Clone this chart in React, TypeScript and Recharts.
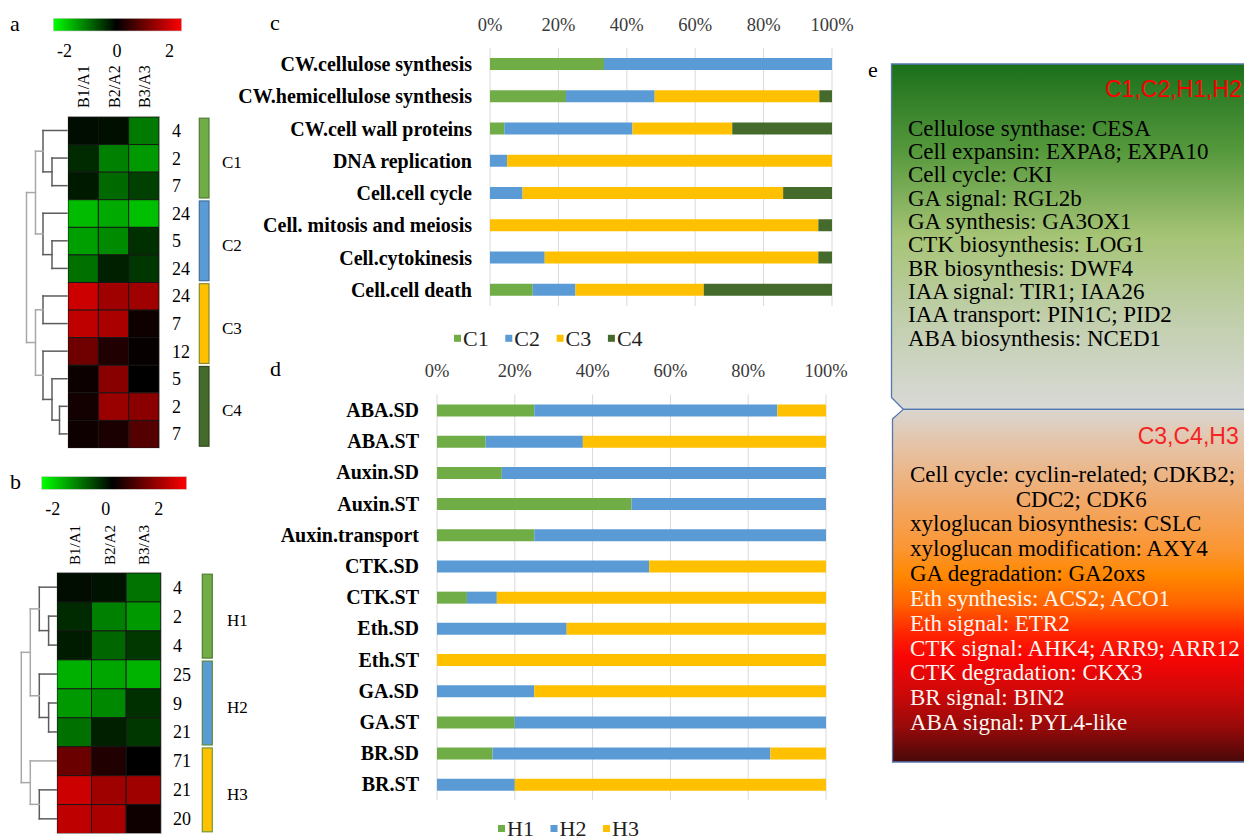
import React from 'react';
import { BarChart, Bar, XAxis, YAxis, CartesianGrid, ScatterChart, Scatter } from 'recharts';

const SERIF = '"Liberation Serif", "Times New Roman", serif';
const SANS = '"Liberation Sans", Arial, sans-serif';

// ---------- heat maps: log2 ratios, rows in dendrogram order ----------
const sampleLabels = ['B1/A1', 'B2/A2', 'B3/A3'];

const cellRowSizes = [4, 2, 7, 24, 5, 24, 24, 7, 12, 5, 2, 7];
const cellRowValues = [
  [-0.1, -0.12, -0.96],
  [-0.33, -1.0, -1.2],
  [-0.2, -0.83, -0.5],
  [-1.47, -1.33, -1.5],
  [-1.25, -1.08, -0.38],
  [-0.88, -0.25, -0.42],
  [1.6, 1.25, 1.25],
  [1.5, 1.33, 0.12],
  [0.88, 0.25, 0.05],
  [0.1, 1.07, 0.0],
  [0.15, 1.2, 1.08],
  [0.12, 0.2, 0.67],
];
const cellClusters = [
  { name: 'C1', from: 0, to: 2, fill: '#70ad47', stroke: '#4f7d31' },
  { name: 'C2', from: 3, to: 5, fill: '#5b9bd5', stroke: '#41719c' },
  { name: 'C3', from: 6, to: 8, fill: '#ffc000', stroke: '#8a8a2a' },
  { name: 'C4', from: 9, to: 11, fill: '#446a2c', stroke: '#2f4a1e' },
];
// merge tree: [height, left, right]; leaves are row indices
const cellTree = [1.35,
  [1.05, [0.8, 0, [0.5, 1, 2]], [0.8, 3, [0.5, 4, 5]]],
  [1.05, [0.8, 6, 7], [0.8, 8, [0.5, 9, [0.25, 10, 11]]]]];

const hormoneRowSizes = [4, 2, 4, 25, 9, 21, 71, 21, 20];
const hormoneRowValues = [
  [-0.1, -0.15, -0.9],
  [-0.33, -1.0, -1.2],
  [-0.22, -0.8, -0.44],
  [-1.38, -1.3, -1.4],
  [-1.2, -1.07, -0.38],
  [-0.88, -0.25, -0.42],
  [0.83, 0.25, 0.0],
  [1.6, 1.25, 1.25],
  [1.5, 1.33, 0.12],
];
const hormoneClusters = [
  { name: 'H1', from: 0, to: 2, fill: '#70ad47', stroke: '#4f7d31' },
  { name: 'H2', from: 3, to: 5, fill: '#5b9bd5', stroke: '#5a8a3a' },
  { name: 'H3', from: 6, to: 8, fill: '#ffc000', stroke: '#6f9a3a' },
];
const hormoneTree = [1.19,
  [0.89, [0.59, 0, [0.28, 1, 2]], [0.59, 3, [0.28, 4, 5]]],
  [0.89, 6, [0.59, 7, 8]]];

const scaleTicks = [-2, 0, 2];

// ---------- panel c: share of genes per cluster ----------
const processNames = [
  'CW.cellulose synthesis',
  'CW.hemicellulose synthesis',
  'CW.cell wall proteins',
  'DNA replication',
  'Cell.cell cycle',
  'Cell. mitosis and meiosis',
  'Cell.cytokinesis',
  'Cell.cell death',
];
const c1Counts = [1, 6, 1, 0, 0, 0, 0, 1];
const c2Counts = [2, 7, 9, 1, 2, 0, 4, 1];
const c3Counts = [0, 13, 7, 19, 16, 24, 20, 3];
const c4Counts = [0, 1, 7, 0, 3, 1, 1, 3];

// ---------- panel d: hormone pathways ----------
const hormoneNames = [
  'ABA.SD', 'ABA.ST', 'Auxin.SD', 'Auxin.ST', 'Auxin.transport', 'CTK.SD', 'CTK.ST',
  'Eth.SD', 'Eth.ST', 'GA.SD', 'GA.ST', 'BR.SD', 'BR.ST',
];
const h1Counts = [2, 1, 1, 1, 1, 0, 1, 0, 0, 0, 1, 1, 0];
const h2Counts = [5, 2, 5, 1, 3, 6, 1, 1, 0, 1, 4, 5, 1];
const h3Counts = [1, 5, 0, 0, 0, 5, 11, 2, 1, 3, 0, 1, 4];

const pctTicks = [0, 0.2, 0.4, 0.6, 0.8, 1];

const cSeries = [
  { key: 'C1', color: '#70ad47' },
  { key: 'C2', color: '#5b9bd5' },
  { key: 'C3', color: '#ffc000' },
  { key: 'C4', color: '#446a2c' },
];
const hSeries = [
  { key: 'H1', color: '#70ad47' },
  { key: 'H2', color: '#5b9bd5' },
  { key: 'H3', color: '#ffc000' },
];

// ---------- panel e: gene summaries ----------
const upGroupTitle = 'C1,C2,H1,H2';
const upGroupLines = [
  'Cellulose synthase: CESA',
  'Cell expansin: EXPA8; EXPA10',
  'Cell cycle: CKI',
  'GA signal: RGL2b',
  'GA synthesis: GA3OX1',
  'CTK biosynthesis: LOG1',
  'BR biosynthesis: DWF4',
  'IAA signal: TIR1; IAA26',
  'IAA transport: PIN1C; PID2',
  'ABA biosynthesis: NCED1',
];
const downGroupTitle = 'C3,C4,H3';
const downGroupLines = [
  'Cell cycle: cyclin-related; CDKB2;',
  'CDC2; CDK6',
  'xyloglucan biosynthesis: CSLC',
  'xyloglucan modification: AXY4',
  'GA degradation: GA2oxs',
  'Eth synthesis: ACS2; ACO1',
  'Eth signal: ETR2',
  'CTK signal: AHK4; ARR9; ARR12',
  'CTK degradation: CKX3',
  'BR signal: BIN2',
  'ABA signal: PYL4-like',
];
const downGroupDarkCount = 5;

const processRows = processNames.map((name, i) => ({
  name, C1: c1Counts[i], C2: c2Counts[i], C3: c3Counts[i], C4: c4Counts[i],
}));
const hormoneRows = hormoneNames.map((name, i) => ({
  name, H1: h1Counts[i], H2: h2Counts[i], H3: h3Counts[i],
}));

function heatColor(v: number) {
  const c = Math.round(255 * Math.min(1, Math.abs(v) / 2));
  return v >= 0 ? `rgb(${c},0,0)` : `rgb(0,${c},0)`;
}

type Geo = {
  left: number; top: number; width: number; height: number;
  leafX: number; unit: number; sizeX: number; barX: number; barW: number;
  labelX: number; colLabelY: number; colLabelSize: number; colLabelShift: number;
  scale: { x: number; y: number; w: number; h: number }; zeroX: number; perUnit: number; tickY: number;
  letter: string; letterX: number; letterY: number;
};

const geoA: Geo = {
  left: 68.3, top: 116.7, width: 91, height: 331, leafX: 67, unit: 30, sizeX: 172,
  barX: 199.3, barW: 9.7, labelX: 222, colLabelY: 108, colLabelSize: 16, colLabelShift: 6,
  scale: { x: 53.3, y: 18.3, w: 128.4, h: 12.7 }, zeroX: 117, perUnit: 26.3, tickY: 57.3,
  letter: 'a', letterX: 10, letterY: 31,
};
const geoB: Geo = {
  left: 57.3, top: 572.7, width: 103.7, height: 260.6, leafX: 57, unit: 30, sizeX: 173,
  barX: 202.3, barW: 10, labelX: 227, colLabelY: 565, colLabelSize: 15, colLabelShift: 5.5,
  scale: { x: 41.7, y: 476.7, w: 145, h: 12.6 }, zeroX: 105.7, perUnit: 26.5, tickY: 515,
  letter: 'b', letterX: 10, letterY: 489,
};

function HeatCells({ values, geo }: { values: number[][]; geo: Geo }) {
  const rows = values.length;
  const cellW = geo.width / 3;
  const cellH = geo.height / rows;
  const data = values.flatMap((row, r) => row.map((v, c) => ({ col: c, row: r, value: v })));
  return (
    <div style={{ position: 'absolute', left: geo.left, top: geo.top }}>
      <ScatterChart width={geo.width} height={geo.height} margin={{ top: 0, right: 0, bottom: 0, left: 0 }}>
        <XAxis type="number" dataKey="col" domain={[-0.5, 2.5]} hide />
        <YAxis type="number" dataKey="row" domain={[-0.5, rows - 0.5]} reversed hide />
        <Scatter
          data={data}
          isAnimationActive={false}
          shape={(p: any) => (
            <rect x={p.cx - cellW / 2} y={p.cy - cellH / 2} width={cellW} height={cellH}
              fill={heatColor(p.payload.value)} stroke="#151515" strokeWidth={0.9} />
          )}
        />
      </ScatterChart>
    </div>
  );
}

function dendroSegments(tree: any, rowY: (i: number) => number, hx: (h: number) => number) {
  const segs: { x1: number; y1: number; x2: number; y2: number; h: number }[] = [];
  const walk = (node: any): { x: number; y: number } => {
    if (typeof node === 'number') return { x: hx(0), y: rowY(node) };
    const [h, a, b] = node;
    const A = walk(a);
    const B = walk(b);
    const x = hx(h);
    segs.push({ x1: A.x, y1: A.y, x2: x, y2: A.y, h });
    segs.push({ x1: B.x, y1: B.y, x2: x, y2: B.y, h });
    segs.push({ x1: x, y1: A.y, x2: x, y2: B.y, h });
    return { x, y: (A.y + B.y) / 2 };
  };
  walk(tree);
  return segs;
}

function HeatDecor({ geo, sizes, clusters, tree, gradId }: { geo: Geo; sizes: number[]; clusters: any[]; tree: any; gradId: string }) {
  const rows = sizes.length;
  const cellH = geo.height / rows;
  const cellW = geo.width / 3;
  const rowY = (i: number) => geo.top + (i + 0.5) * cellH;
  const segs = dendroSegments(tree, rowY, (h) => geo.leafX - geo.unit * h);
  return (
    <g>
      <text x={geo.letterX} y={geo.letterY} fontFamily={SERIF} fontSize={22}>{geo.letter}</text>
      <rect x={geo.scale.x} y={geo.scale.y} width={geo.scale.w} height={geo.scale.h}
        fill={`url(#${gradId})`} stroke="#c8c8c8" strokeWidth={0.6} />
      {scaleTicks.map((t) => (
        <text key={t} x={geo.zeroX + t * geo.perUnit} y={geo.tickY} textAnchor="middle"
          fontFamily={SERIF} fontSize={18}>{t}</text>
      ))}
      {sampleLabels.map((s, c) => {
        const x = geo.left + (c + 0.5) * cellW + geo.colLabelShift;
        return (
          <text key={s} transform={`translate(${x},${geo.colLabelY}) rotate(-90)`}
            fontFamily={SERIF} fontSize={geo.colLabelSize}>{s}</text>
        );
      })}
      {segs.map((s, i) => (
        <line key={i} x1={s.x1} y1={s.y1} x2={s.x2} y2={s.y2}
          stroke={s.h > 0.85 ? '#a8a8a8' : '#5c5c5c'} strokeWidth={1.5} strokeLinecap="square" />
      ))}
      <rect x={geo.left} y={geo.top} width={geo.width} height={geo.height} fill="none" stroke="#8a8a8a" strokeWidth={1} />
      {sizes.map((n, i) => (
        <text key={i} x={geo.sizeX} y={rowY(i) + 6.5} fontFamily={SERIF} fontSize={18}>{n}</text>
      ))}
      {clusters.map((c) => {
        const y1 = geo.top + c.from * cellH + 1.5;
        const y2 = geo.top + (c.to + 1) * cellH - 1.5;
        return (
          <g key={c.name}>
            <rect x={geo.barX} y={y1} width={geo.barW} height={y2 - y1} fill={c.fill} stroke={c.stroke} strokeWidth={1.2} />
            <text x={geo.labelX} y={(y1 + y2) / 2 + 10} fontFamily={SERIF} fontSize={17}>{c.name}</text>
          </g>
        );
      })}
    </g>
  );
}

const PctTick = ({ x, y, payload }: any) => (
  <text x={x} y={y} textAnchor="middle" fontFamily={SERIF} fontSize={18.5} fill="#3a3a3a">
    {Math.round(payload.value * 100)}%
  </text>
);
const NameTick = ({ x, y, payload }: any) => (
  <text x={x} y={y} dy={7} textAnchor="end" fontFamily={SERIF} fontSize={20} fontWeight="bold" fill="#000">
    {payload.value}
  </text>
);

function ShareChart({ data, series, left, top, width, height, margin, yWidth, tickMargin }: any) {
  return (
    <div style={{ position: 'absolute', left, top }}>
      <BarChart width={width} height={height} layout="vertical" data={data} stackOffset="expand" margin={margin}>
        <CartesianGrid horizontal={false} stroke="#d9d9d9" strokeWidth={1} />
        <XAxis type="number" orientation="top" domain={[0, 1]} ticks={pctTicks} height={30}
          axisLine={false} tickLine={false} tickSize={0} tickMargin={tickMargin} tick={<PctTick />} />
        <YAxis type="category" dataKey="name" width={yWidth} interval={0}
          axisLine={false} tickLine={false} tickSize={0} tickMargin={18} tick={<NameTick />} />
        {series.map((s: any) => (
          <Bar key={s.key} dataKey={s.key} stackId="share" fill={s.color} barSize={12} isAnimationActive={false} />
        ))}
      </BarChart>
    </div>
  );
}

function LegendRow({ series, x0, step, y }: any) {
  return (
    <g>
      {series.map((s: any, i: number) => (
        <g key={s.key}>
          <rect x={x0 + i * step} y={y - 3.5} width={7} height={7} fill={s.color} />
          <text x={x0 + i * step + 9} y={y + 7.5} fontFamily={SERIF} fontSize={22} fill="#222">{s.key}</text>
        </g>
      ))}
    </g>
  );
}

function SummaryPanel() {
  return (
    <g>
      <defs>
        <linearGradient id="upFill" x1="0" y1="0" x2="0" y2="1">
          <stop offset="0" stopColor="#1b6f1b" />
          <stop offset="0.25" stopColor="#55983c" />
          <stop offset="0.5" stopColor="#a6c476" />
          <stop offset="0.75" stopColor="#c2cfae" />
          <stop offset="1" stopColor="#d9d9d7" />
        </linearGradient>
        <linearGradient id="downFill" x1="0" y1="0" x2="0" y2="1">
          <stop offset="0" stopColor="#d9d6d0" />
          <stop offset="0.11" stopColor="#e6c2a4" />
          <stop offset="0.26" stopColor="#f1a868" />
          <stop offset="0.4" stopColor="#fb9530" />
          <stop offset="0.47" stopColor="#ff8800" />
          <stop offset="0.55" stopColor="#ff6400" />
          <stop offset="0.63" stopColor="#ff2800" />
          <stop offset="0.7" stopColor="#fa0505" />
          <stop offset="0.8" stopColor="#d00808" />
          <stop offset="0.9" stopColor="#980a0a" />
          <stop offset="1" stopColor="#480808" />
        </linearGradient>
      </defs>
      <text x={868} y={76.7} fontFamily={SERIF} fontSize={22}>e</text>
      <polygon points="891.5,64 1252,64 1252,409.3 903.3,409.3 891.5,397.5" fill="url(#upFill)" stroke="#5577b0" strokeWidth={1.3} />
      <polygon points="892.5,419 903.3,409.3 1252,409.3 1252,762 892.5,762" fill="url(#downFill)" stroke="#5577b0" strokeWidth={1.3} />
      <text x={1105} y={96.7} fontFamily={SANS} fontSize={23} fill="#ff0000">{upGroupTitle}</text>
      {upGroupLines.map((t, i) => (
        <text key={t} x={908} y={135.7 + i * 23.33} fontFamily={SERIF} fontSize={23} fill="#000">{t}</text>
      ))}
      <text x={1137.7} y={444} fontFamily={SANS} fontSize={23} fill="#f52323">{downGroupTitle}</text>
      {downGroupLines.map((t, i) => (
        <text key={t} x={i === 1 ? 1015.7 : 910} y={481.7 + i * 24.83} fontFamily={SERIF} fontSize={23}
          fill={i < downGroupDarkCount ? '#000' : '#fdf6f0'}>{t}</text>
      ))}
    </g>
  );
}

export default function App() {
  return (
    <div style={{ position: 'absolute', left: 0, top: 0, width: 1244, height: 840, background: '#fff', overflow: 'hidden' }}>
      <svg width={1244} height={840} style={{ position: 'absolute', left: 0, top: 0 }}>
        <defs>
          <linearGradient id="scaleA" x1="0" y1="0" x2="1" y2="0">
            <stop offset="0" stopColor="#00ff00" />
            <stop offset="0.49" stopColor="#000000" />
            <stop offset="1" stopColor="#ff0000" />
          </linearGradient>
        </defs>
        <HeatDecor geo={geoA} sizes={cellRowSizes} clusters={cellClusters} tree={cellTree} gradId="scaleA" />
        <HeatDecor geo={geoB} sizes={hormoneRowSizes} clusters={hormoneClusters} tree={hormoneTree} gradId="scaleA" />
        <text x={270} y={30} fontFamily={SERIF} fontSize={22}>c</text>
        <text x={270} y={376} fontFamily={SERIF} fontSize={22}>d</text>
        <LegendRow series={cSeries} x0={454} step={51.3} y={338.3} />
        <LegendRow series={hSeries} x0={498} step={52.5} y={828.5} />
        <SummaryPanel />
      </svg>
      <HeatCells values={cellRowValues} geo={geoA} />
      <HeatCells values={hormoneRowValues} geo={geoB} />
      <ShareChart data={processRows} series={cSeries} left={220} top={0} width={650} height={360}
        margin={{ top: 18, right: 38, bottom: 54, left: 0 }} yWidth={270} tickMargin={17.3} />
      <ShareChart data={hormoneRows} series={hSeries} left={220} top={340} width={650} height={500}
        margin={{ top: 24.5, right: 44, bottom: 40, left: 0 }} yWidth={217} tickMargin={17.8} />
    </div>
  );
}
